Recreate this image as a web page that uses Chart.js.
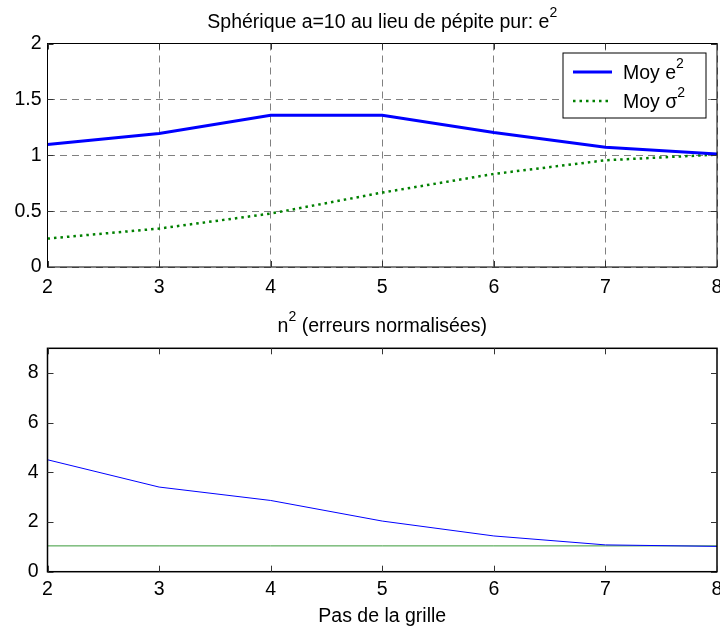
<!DOCTYPE html>
<html>
<head>
<meta charset="utf-8">
<script src="https://cdn.jsdelivr.net/npm/chart.js@4.4.0/dist/chart.umd.min.js"></script>
<style>
html, body { margin: 0; padding: 0; background: #fff; }
#wrap { position: relative; width: 720px; height: 627px; }
canvas { position: absolute; left: 0; }
</style>
</head>
<body>
<div id="wrap">
	<canvas id="chartTop" width="720" height="300" style="top:0"></canvas>
	<canvas id="chartBottom" width="720" height="327" style="top:300px"></canvas>
</div>
<script>
// pas de la grille (axe x commun)
var pas = [2, 3, 4, 5, 6, 7, 8];

// graphe du haut
var moyE2 = [1.097, 1.194, 1.358, 1.358, 1.203, 1.072, 1.012];
var moySigma2 = [0.254, 0.344, 0.478, 0.666, 0.833, 0.955, 1.006];
var ticksTopY = [0, 0.5, 1, 1.5, 2];

// graphe du bas
var n2 = [4.51, 3.41, 2.87, 2.04, 1.44, 1.08, 1.02];
var niveauRef = [1.04, 1.04, 1.04, 1.04, 1.04, 1.04, 1.04];
var ticksBottomY = [0, 2, 4, 6, 8];

var FONT = "'Liberation Sans', Arial, sans-serif";
var FS = 19.5;
Chart.defaults.font.family = FONT;
Chart.defaults.font.size = FS;
Chart.defaults.color = '#000';

// texte avec exposant d'un caractere: "base^2 suite"
function splitSup(text) {
	var i = text.indexOf('^');
	if (i < 0) return [text, '', ''];
	return [text.slice(0, i), text.charAt(i + 1), text.slice(i + 2)];
}
function drawSup(ctx, text, x, y, align, size) {
	var p = splitSup(text);
	var supSize = size * 0.72;
	ctx.font = size + 'px ' + FONT;
	var w0 = ctx.measureText(p[0]).width;
	var w2 = ctx.measureText(p[2]).width;
	ctx.font = supSize + 'px ' + FONT;
	var w1 = ctx.measureText(p[1]).width;
	var w = w0 + w1 + w2;
	if (align == 'center') x = x - w / 2;
	ctx.textAlign = 'left';
	ctx.textBaseline = 'alphabetic';
	ctx.fillStyle = '#000';
	ctx.font = size + 'px ' + FONT;
	ctx.fillText(p[0], x, y);
	ctx.fillText(p[2], x + w0 + w1, y);
	ctx.font = supSize + 'px ' + FONT;
	ctx.fillText(p[1], x + w0, y - size * 0.55);
}

// cadre, graduations internes, titres, légende style matlab
var matlabAxes = {
	id: 'matlabAxes',
	afterDraw: function(chart, args, opts) {
		var ctx = chart.ctx;
		var a = chart.chartArea;
		var xs = chart.scales.x, ys = chart.scales.y;
		ctx.save();
		ctx.strokeStyle = '#000';
		ctx.lineWidth = opts.boxWidth || 1;
		ctx.strokeRect(a.left, a.top, a.right - a.left, a.bottom - a.top);

		ctx.lineWidth = 1;
		ctx.strokeStyle = '#333';
		ctx.beginPath();
		xs.ticks.forEach(function(t) {
			var px = Math.round(xs.getPixelForValue(t.value)) + 0.5;
			ctx.moveTo(px, a.bottom); ctx.lineTo(px, a.bottom - 6);
			ctx.moveTo(px, a.top); ctx.lineTo(px, a.top + 6);
		});
		ys.ticks.forEach(function(t) {
			var py = Math.round(ys.getPixelForValue(t.value)) + 0.5;
			ctx.moveTo(a.left, py); ctx.lineTo(a.left + 6, py);
			ctx.moveTo(a.right, py); ctx.lineTo(a.right - 6, py);
		});
		ctx.stroke();

		var cx = (a.left + a.right) / 2;
		if (opts.title) drawSup(ctx, opts.title, cx, opts.titleY, 'center', FS);
		if (opts.xlabel) drawSup(ctx, opts.xlabel, cx, opts.xlabelY, 'center', FS);

		if (opts.legend) {
			var L = opts.legend;
			ctx.fillStyle = '#fff';
			ctx.fillRect(L.x, L.y, L.w, L.h);
			ctx.strokeStyle = '#000';
			ctx.lineWidth = 1;
			ctx.strokeRect(L.x, L.y, L.w, L.h);
			chart.data.datasets.forEach(function(ds, i) {
				var ry = L.y + 19 + i * 29;
				ctx.beginPath();
				ctx.strokeStyle = ds.borderColor;
				ctx.lineWidth = ds.borderWidth;
				ctx.setLineDash(ds.borderDash || []);
				ctx.moveTo(L.x + 10, ry);
				ctx.lineTo(L.x + 49, ry);
				ctx.stroke();
				ctx.setLineDash([]);
				drawSup(ctx, ds.label, L.x + 60, ry + 7, 'left', FS);
			});
		}
		ctx.restore();
	}
};

function fixWidth(w) {
	return function(scale) {
		scale.width = w;
		scale.paddingTop = 0;
		scale.paddingBottom = 0;
	};
}
function fixHeight(h) {
	return function(scale) {
		scale.height = h;
		scale.paddingLeft = 0;
		scale.paddingRight = 0;
	};
}
function plainNum(v) {
	return String(v);
}

function DrawTop() {
	var ctx = document.getElementById('chartTop').getContext('2d');
	window.chartTop = new Chart(ctx, {
		type: 'line',
		data: {
			labels: pas,
			datasets: [{
				label: 'Moy e^2',
				data: moyE2,
				borderColor: '#0000ff',
				borderWidth: 3,
				pointRadius: 0,
				tension: 0
			}, {
				label: 'Moy \u03c3^2',
				data: moySigma2,
				borderColor: '#008000',
				borderWidth: 2.5,
				borderDash: [2.5, 4],
				pointRadius: 0,
				tension: 0
			}]
		},
		options: {
			responsive: false,
			animation: false,
			layout: { padding: { top: 43.5, right: 3, left: 0, bottom: 0 } },
			plugins: {
				legend: { display: false },
				tooltip: { enabled: false },
				matlabAxes: {
					title: 'Sph\u00e9rique a=10 au lieu de p\u00e9pite pur: e^2',
					titleY: 28,
					legend: { x: 563, y: 53, w: 143, h: 65 }
				}
			},
			scales: {
				x: {
					type: 'linear', min: 2, max: 8,
					ticks: { stepSize: 1, padding: 9, callback: plainNum },
					grid: { color: '#808080', drawTicks: false },
					border: { display: false, dash: [7, 5] },
					afterFit: fixHeight(33)
				},
				y: {
					min: 0, max: 2,
					afterBuildTicks: function(scale) {
						scale.ticks = ticksTopY.map(function(v) { return { value: v }; });
					},
					ticks: { padding: 6, callback: plainNum },
					grid: { color: '#808080', drawTicks: false },
					border: { display: false, dash: [7, 5] },
					afterFit: fixWidth(47.5)
				}
			}
		},
		plugins: [matlabAxes]
	});
}

function DrawBottom() {
	var ctx = document.getElementById('chartBottom').getContext('2d');
	window.chartBottom = new Chart(ctx, {
		type: 'line',
		data: {
			labels: pas,
			datasets: [{
				label: 'n^2',
				data: n2,
				borderColor: '#0000ff',
				borderWidth: 1,
				pointRadius: 0,
				tension: 0
			}, {
				label: 'ref',
				data: niveauRef,
				borderColor: '#3a9a3a',
				borderWidth: 1,
				pointRadius: 0,
				tension: 0
			}]
		},
		options: {
			responsive: false,
			animation: false,
			layout: { padding: { top: 48.3, right: 3, left: 0, bottom: 0 } },
			plugins: {
				legend: { display: false },
				tooltip: { enabled: false },
				matlabAxes: {
					title: 'n^2 (erreurs normalis\u00e9es)',
					titleY: 31.7,
					xlabel: 'Pas de la grille',
					xlabelY: 321.5,
					boxWidth: 1.5
				}
			},
			scales: {
				x: {
					type: 'linear', min: 2, max: 8,
					ticks: { stepSize: 1, padding: 6, callback: plainNum },
					grid: { display: false, drawTicks: false },
					border: { display: false },
					afterFit: fixHeight(55.3)
				},
				y: {
					min: 0, max: 9,
					afterBuildTicks: function(scale) {
						scale.ticks = ticksBottomY.map(function(v) { return { value: v }; });
					},
					ticks: { padding: 9, callback: plainNum },
					grid: { display: false, drawTicks: false },
					border: { display: false },
					afterFit: fixWidth(47.5)
				}
			}
		},
		plugins: [matlabAxes]
	});
}

DrawTop();
DrawBottom();
</script>
</body>
</html>
